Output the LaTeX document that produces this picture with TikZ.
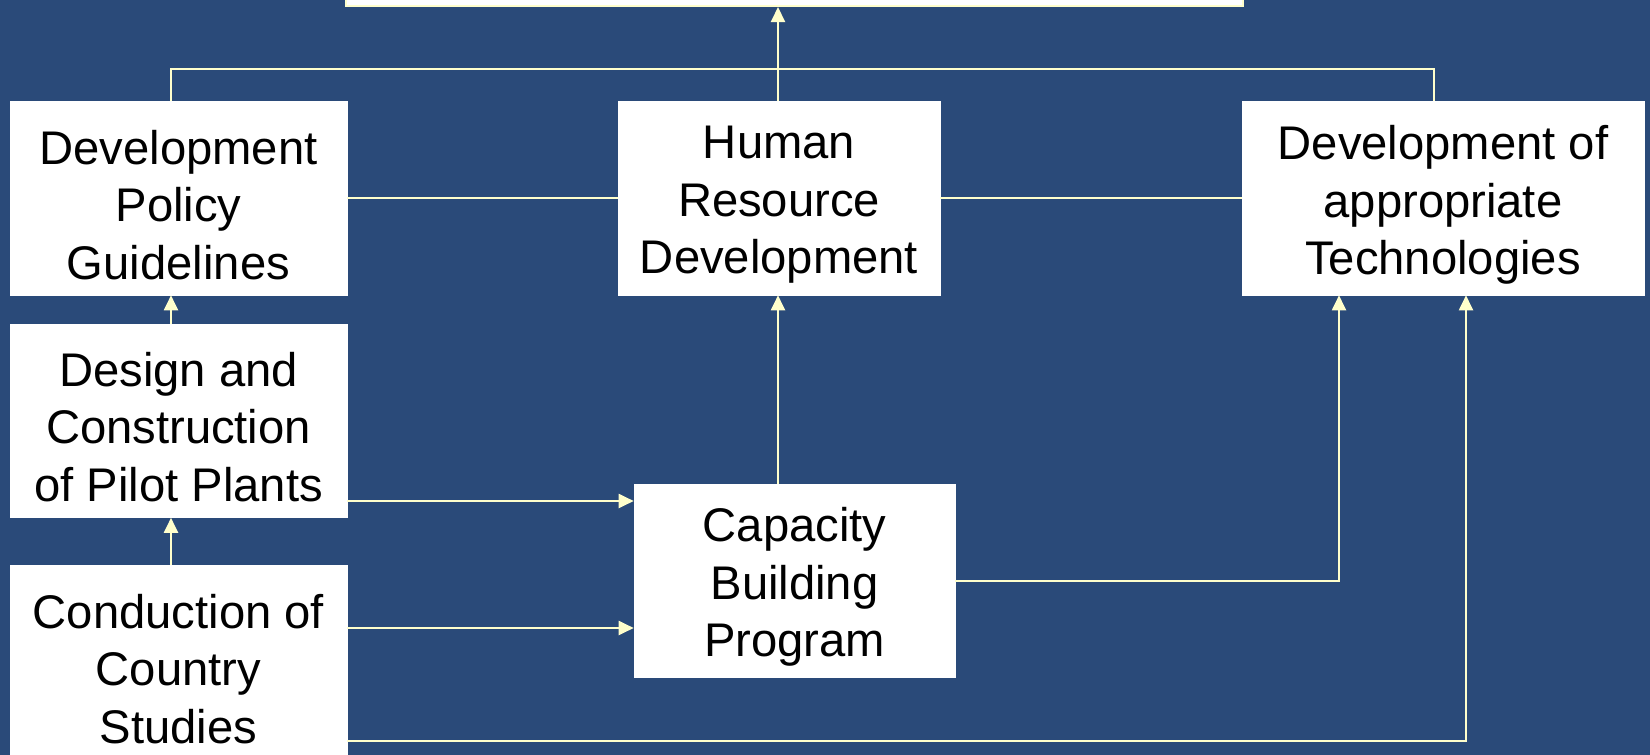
\documentclass[tikz,border=0pt]{standalone}
\usepackage{fontspec}
\setmainfont{Liberation Sans}
\usetikzlibrary{arrows.meta}
\definecolor{bg}{RGB}{42,74,121}
\definecolor{cream}{RGB}{255,255,204}
\begin{document}
\begin{tikzpicture}[x=0.5pt,y=-0.5pt,
  box/.style={fill=white,draw=white,line width=0.3pt,inner sep=0pt},
  txt/.style={inner sep=0pt,align=center,font=\fontsize{23.6}{28.8}\selectfont,text=black},
  conn/.style={draw=cream,line width=1pt},
  arr/.style={conn,-{Triangle[length=7.5pt,width=7pt,fill=cream]}}]
\useasboundingbox (0,0) rectangle (1650,755);
\fill[bg] (0,0) rectangle (1650,755);
% boxes
\node[box,draw=cream,line width=1pt,minimum width=448.5pt,minimum height=25pt] (top) at (794.5,-19) {};
\node[box,minimum width=168.5pt,minimum height=97pt] (dpg) at (178.5,198) {};
\node[box,minimum width=161pt,minimum height=97pt] (hrd) at (779,198) {};
\node[box,minimum width=201pt,minimum height=97pt] (dat) at (1443,198) {};
\node[box,minimum width=168.5pt,minimum height=96.5pt] (dcp) at (178.5,421) {};
\node[box,minimum width=160.5pt,minimum height=96.5pt] (cbp) at (794.5,581) {};
\node[box,minimum width=168.5pt,minimum height=98pt] (cou) at (178.5,663) {};
% texts
\node[txt] (tdpg) at ([yshift=-3.5pt]dpg.center) {Development\\Policy\\Guidelines};
\node[txt] (thrd) at ([yshift=-3.5pt]hrd.center) {Human\\Resource\\Development};
\node[txt] (tdat) at ([yshift=-3.5pt]dat.center) {Development of\\appropriate\\Technologies};
\node[txt] (tdcp) at ([yshift=-3pt]dcp.center) {Design and\\Construction\\of Pilot Plants};
\node[txt] (tcbp) at ([yshift=-3pt]cbp.center) {Capacity\\Building\\Program};
\node[txt] (tcou) at ([yshift=-3pt]cou.center) {Conduction of\\Country\\Studies};
% helper coordinates
\coordinate (xl) at (171,0);
\coordinate (xh) at (778,0);
\coordinate (xr) at (1434,0);
\coordinate (xa) at (1339,0);
\coordinate (xb) at (1466,0);
\coordinate (yt) at (0,69);
\coordinate (y1) at (0,501);
\coordinate (y2) at (0,628);
\coordinate (y3) at (0,581);
\coordinate (y4) at (0,741);
% connectors
\draw[conn] (dpg.north -| xl) -- (xl |- yt) -- (xr |- yt) -- (dat.north -| xr);
\draw[arr] (hrd.north -| xh) -- (top.south -| xh);
\draw[conn] (dpg.east) -- (hrd.west);
\draw[conn] (hrd.east) -- (dat.west);
\draw[arr] (dcp.north -| xl) -- (dpg.south -| xl);
\draw[arr] (cou.north -| xl) -- (dcp.south -| xl);
\draw[arr] (dcp.east |- y1) -- (cbp.west |- y1);
\draw[arr] (cou.east |- y2) -- (cbp.west |- y2);
\draw[arr] (cbp.north -| xh) -- (hrd.south -| xh);
\draw[arr] (cbp.east |- y3) -- (xa |- y3) -- (dat.south -| xa);
\draw[arr] (cou.east |- y4) -- (xb |- y4) -- (dat.south -| xb);
\end{tikzpicture}
\end{document}
